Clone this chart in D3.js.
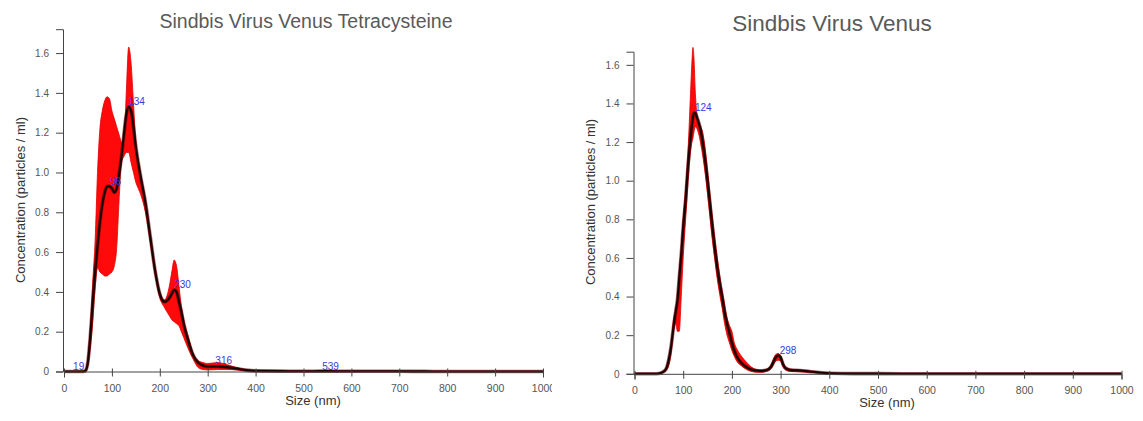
<!DOCTYPE html>
<html>
<head>
<meta charset="utf-8">
<script src="https://cdn.jsdelivr.net/npm/d3@7/dist/d3.min.js"></script>
<style>
  html, body { margin: 0; padding: 0; background: #fff; }
  svg { display: block; font-family: "Liberation Sans", Arial, sans-serif; }
</style>
</head>
<body>
<svg id="chart" width="1143" height="421"></svg>
<script>
// ---------- Data: left panel (Sindbis Virus Venus Tetracysteine) ----------
const leftTitle = "Sindbis Virus Venus Tetracysteine";
const leftSizes = [0,20,40,45,50,55,60,65,70,75,80,85,90,95,100,105,110,115,120,125,130,135,140,145,150,155,160,170,180,190,200,210,220,225,230,235,240,245,250,260,270,280,290,300,320,340,360,380,400,450,500,539,600,700,800,900,1000];
const leftMean  = [0,0,0,0.005,0.05,0.18,0.35,0.50,0.63,0.75,0.84,0.90,0.93,0.93,0.92,0.90,0.92,0.99,1.08,1.19,1.29,1.33,1.31,1.23,1.13,1.05,0.98,0.85,0.68,0.51,0.39,0.35,0.37,0.39,0.41,0.40,0.35,0.30,0.24,0.15,0.08,0.045,0.03,0.025,0.025,0.022,0.015,0.007,0.003,0.002,0.001,0.002,0.001,0.001,0,0,0];
const leftUpper = [0,0,0.003,0.01,0.07,0.22,0.45,0.66,1.00,1.22,1.31,1.36,1.38,1.37,1.31,1.27,1.23,1.19,1.15,1.13,1.40,1.63,1.55,1.35,1.15,1.06,0.99,0.86,0.69,0.52,0.40,0.36,0.43,0.50,0.56,0.53,0.43,0.33,0.26,0.17,0.09,0.055,0.045,0.04,0.045,0.035,0.02,0.01,0.004,0.003,0.002,0.003,0.002,0.002,0.001,0.001,0.001];
const leftLower = [0,0,0,0,0.03,0.12,0.25,0.42,0.52,0.50,0.49,0.48,0.48,0.49,0.50,0.53,0.62,0.86,1.05,1.08,1.10,1.10,1.05,1.00,0.95,0.92,0.89,0.80,0.65,0.49,0.37,0.32,0.28,0.26,0.25,0.24,0.23,0.20,0.17,0.11,0.06,0.02,0.01,0.008,0.01,0.01,0.008,0.004,0.001,0.001,0,0.001,0,0,0,0,0];
const leftPeakSizes  = [19, 96, 134, 230, 316, 539];
const leftPeakValues = [0.0, 0.93, 1.33, 0.41, 0.03, 0.002];
const leftPeakLabels = ["19", "96", "134", "230", "316", "539"];

// ---------- Data: right panel (Sindbis Virus Venus) ----------
const rightTitle = "Sindbis Virus Venus";
const rightSizes = [0,40,50,55,60,65,70,75,80,85,88,92,96,100,105,110,115,118,120,122,125,128,132,136,140,145,150,155,160,165,170,175,180,185,190,195,200,205,210,220,230,240,250,260,270,280,285,290,295,300,305,310,320,340,360,380,400,450,500,600,700,800,900,1000];
const rightMean  = [0,0,0.002,0.005,0.012,0.026,0.07,0.14,0.24,0.33,0.38,0.50,0.62,0.76,0.90,1.08,1.22,1.29,1.33,1.35,1.35,1.33,1.30,1.26,1.20,1.11,1.00,0.88,0.76,0.65,0.55,0.47,0.40,0.32,0.26,0.21,0.16,0.12,0.09,0.055,0.035,0.022,0.017,0.015,0.018,0.035,0.06,0.085,0.095,0.085,0.05,0.03,0.02,0.017,0.012,0.007,0.003,0.001,0.001,0,0,0,0,0];
const rightUpper = [0,0,0.003,0.006,0.013,0.028,0.07,0.13,0.28,0.33,0.36,0.53,0.65,0.81,0.96,1.16,1.45,1.62,1.69,1.64,1.45,1.35,1.30,1.28,1.25,1.17,1.05,0.93,0.81,0.70,0.60,0.51,0.43,0.36,0.29,0.25,0.22,0.16,0.13,0.09,0.06,0.035,0.022,0.018,0.022,0.045,0.075,0.10,0.105,0.095,0.06,0.035,0.025,0.02,0.014,0.008,0.004,0.002,0.002,0.001,0.001,0.001,0.001,0.001];
const rightLower = [0,0,0.001,0.003,0.008,0.018,0.04,0.10,0.22,0.26,0.22,0.22,0.40,0.60,0.80,1.00,1.15,1.20,1.22,1.25,1.28,1.27,1.24,1.19,1.13,1.04,0.93,0.81,0.69,0.59,0.49,0.41,0.34,0.26,0.20,0.16,0.12,0.09,0.065,0.04,0.022,0.012,0.008,0.008,0.012,0.025,0.045,0.065,0.07,0.065,0.035,0.02,0.012,0.01,0.008,0.004,0.001,0,0,0,0,0,0,0];
const rightPeakSizes  = [124, 298];
const rightPeakValues = [1.355, 0.095];
const rightPeakLabels = ["124", "298"];

const xTicks = [0,100,200,300,400,500,600,700,800,900,1000];
const yTicks = [0,0.2,0.4,0.6,0.8,1.0,1.2,1.4,1.6];
const xLabel = "Size (nm)";
const yLabel = "Concentration (particles / ml)";

const svg = d3.select("#chart");
svg.append("defs").append("clipPath").attr("id", "leftClip")
  .append("rect").attr("x", 0).attr("y", 0).attr("width", 552).attr("height", 421);

function panel(cfg) {
  const g = svg.append("g");
  if (cfg.clip) g.attr("clip-path", `url(#${cfg.clip})`);
  const x = d3.scaleLinear().domain([0, 1000]).range([cfg.x0, cfg.x1]);
  const y = d3.scaleLinear().domain([0, cfg.yMax]).range([cfg.y0, cfg.y1]);

  const band = cfg.sizes.map((s, i) => ({s, m: cfg.mean[i], u: cfg.upper[i], l: cfg.lower[i]}));

  // red band
  g.append("path")
    .datum(band)
    .attr("d", d3.area().curve(d3.curveMonotoneX)
      .x(d => x(d.s)).y0(d => y(d.l)).y1(d => y(d.u)))
    .attr("fill", "#ff0a0a")
    .attr("stroke", "#e00000")
    .attr("stroke-width", 0.8);

  // mean line
  const line = d3.line().curve(d3.curveMonotoneX).x(d => x(d.s)).y(d => y(d.m));
  g.append("path")
    .datum(band)
    .attr("d", line)
    .attr("fill", "none")
    .attr("stroke", "#6a0000")
    .attr("stroke-width", 3.6)
    .attr("opacity", 0.6);
  g.append("path")
    .datum(band)
    .attr("d", line)
    .attr("fill", "none")
    .attr("stroke", "#1a0202")
    .attr("stroke-width", 2.1);

  // axes
  const xAxis = g.append("g")
    .attr("transform", `translate(0,${cfg.y0})`)
    .call(d3.axisBottom(x).tickValues(xTicks).tickFormat(d3.format("d")).tickSize(6).tickPadding(7));
  xAxis.selectAll(".tick line").attr("y1", -3).attr("y2", 5);
  const yAxis = g.append("g")
    .attr("transform", `translate(${cfg.x0 - 1},0)`)
    .call(d3.axisLeft(y).tickValues(yTicks).tickFormat(d => d === 0 ? "0" : d3.format(".1f")(d)).tickSize(7).tickPadding(7));
  [xAxis, yAxis].forEach(a => {
    a.select(".domain").attr("stroke", "#444").attr("stroke-width", 1);
    a.selectAll(".tick line").attr("stroke", "#444");
    a.selectAll(".tick text").attr("fill", "#555")
      .style("font-family", "'Liberation Sans', Arial, sans-serif");
  });
  xAxis.selectAll(".tick text").style("font-size", "10.5px");
  yAxis.selectAll(".tick text").style("font-size", "10px");

  // peak labels
  g.selectAll(".peak")
    .data(cfg.peakSizes)
    .enter().append("text")
    .attr("x", d => x(d))
    .attr("y", (d, i) => y(cfg.peakValues[i]) - 1.5)
    .attr("fill", "#3838e0")
    .style("font-size", "10px")
    .text((d, i) => cfg.peakLabels[i]);

  // titles & axis labels
  g.append("text")
    .attr("x", cfg.titleX).attr("y", cfg.titleY)
    .attr("text-anchor", "middle")
    .attr("fill", "#5a5a5a")
    .style("font-size", cfg.titleSize + "px")
    .text(cfg.title);
  g.append("text")
    .attr("x", cfg.xLabelX).attr("y", cfg.xLabelY)
    .attr("text-anchor", "middle")
    .attr("fill", "#333")
    .style("font-size", "13px")
    .text(xLabel);
  g.append("text")
    .attr("transform", `translate(${cfg.yLabelX},${cfg.yLabelY}) rotate(-90)`)
    .attr("text-anchor", "middle")
    .attr("fill", "#333")
    .style("font-size", "13px")
    .text(yLabel);
}

panel({
  sizes: leftSizes, mean: leftMean, upper: leftUpper, lower: leftLower,
  peakSizes: leftPeakSizes, peakValues: leftPeakValues, peakLabels: leftPeakLabels,
  x0: 64, x1: 543, y0: 371.5, y1: 29.2, yMax: 1.72, clip: "leftClip",
  title: leftTitle, titleX: 306, titleY: 28, titleSize: 19.5,
  xLabelX: 313, xLabelY: 405, yLabelX: 24.5, yLabelY: 200
});
panel({
  sizes: rightSizes, mean: rightMean, upper: rightUpper, lower: rightLower,
  peakSizes: rightPeakSizes, peakValues: rightPeakValues, peakLabels: rightPeakLabels,
  x0: 634.5, x1: 1121.5, y0: 373.8, y1: 51.7, yMax: 1.668,
  title: rightTitle, titleX: 832, titleY: 30.5, titleSize: 22.5,
  xLabelX: 887, xLabelY: 406.5, yLabelX: 595, yLabelY: 202
});
</script>
</body>
</html>
